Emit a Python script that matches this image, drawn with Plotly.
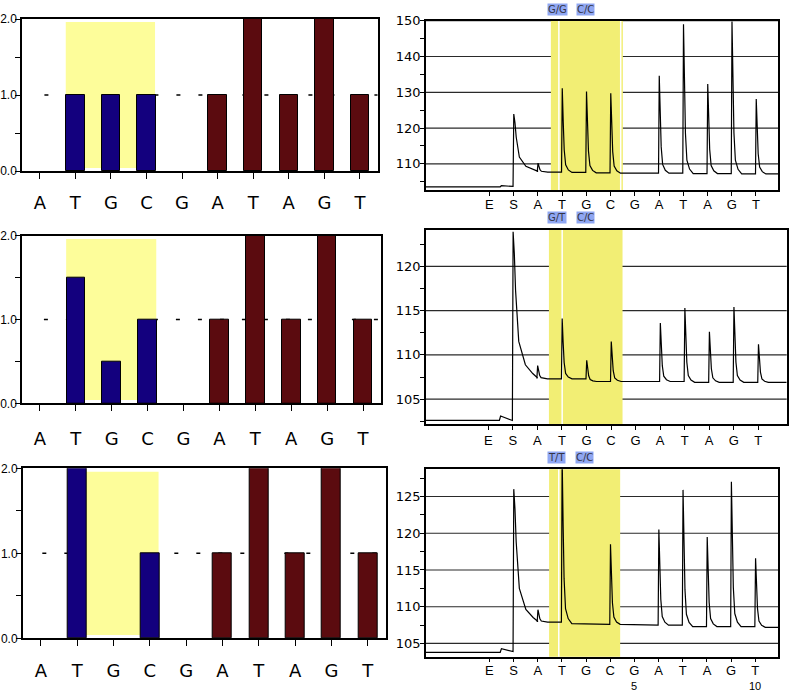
import plotly.graph_objects as go

W, H = 790, 692

# ---------------- data ----------------
bases = ["A", "T", "G", "C", "G", "A", "T", "A", "G", "T"]
hist1 = [0, 1, 1, 1, 0, 1, 2, 1, 2, 1]
hist2 = [0, 1.5, 0.5, 1, 0, 1, 2, 1, 2, 1]
hist3 = [0, 2, 0, 1, 0, 1, 2, 1, 2, 1]
snp_positions = [1, 2, 3]          # bars inside the variable region (blue)

disp = ["E", "S", "A", "T", "G", "C", "G", "A", "T", "A", "G", "T"]
disp_numbers3 = {6: "5", 11: "10"}

# peak heights (None = no peak)
peaks1 = [None, 123.9, 110.2, 131.1, 130.2, 129.7, None, 134.6, 149.0, 132.3, 149.8, 128.1]
peaks2 = [None, 123.9, 108.8, 114.1, 109.4, 111.5, None, 113.6, 115.3, 112.6, 115.4, 111.2]
peaks3 = [None, 126.0, 109.6, 130.5, None, 118.5, None, 120.5, 125.9, 119.5, 127.0, 116.6]
# baseline level reached after each dispensation
after1 = [103.7, 107.9, 107.7, 107.6, 107.5, 107.4, 107.4, 107.4, 107.3, 107.3, 107.2, 107.2]
after2 = [102.6, 107.4, 107.3, 107.3, 107.0, 107.0, 107.0, 107.0, 106.9, 106.9, 106.9, 106.9]
after3 = [103.9, 108.0, 107.9, 107.7, 107.6, 107.6, 107.5, 107.5, 107.3, 107.3, 107.3, 107.2]
pre_base1 = [103.6, 103.9]
pre_base2 = [102.6, 103.1]
pre_base3 = [103.8, 104.3]

tags = [("G/G", "C/C"), ("G/T", "C/C"), ("T/T", "C/C")]

# peak profiles (time offset, fraction of peak amplitude remaining)
sharp_dt = [0.04, 0.08, 0.14, 0.25, 0.4]
sharp_f = [0.6, 0.27, 0.09, 0.03, 0.0]
start_dt = [0.05, 0.1, 0.23, 0.5, 0.8, 1.0]
start_f = [0.85, 0.6, 0.25, 0.09, 0.03, 0.0]

NAVY = "#13007E"
MAROON = "#5B0B0F"
LYELLOW = "#FDFD9A"
RYELLOW = "#F2EE74"
TAGBG = "#8FA7F3"
GRID = "#2a2a2a"

DJ = "DejaVu Sans"
SANS = "Liberation Sans, Arial, sans-serif"


def cfont(size, color="black", family=DJ):
    d = dict(family=family, size=size, color=color)
    try:
        go.layout.xaxis.Tickfont(stretch="condensed")
        d["stretch"] = "condensed"
    except Exception:
        pass
    return d


fig = go.Figure()


def dom_x(a, b):
    return [a / W, b / W]


def dom_y(top, bottom):
    return [1 - bottom / H, 1 - top / H]


# ---------------- left histograms ----------------
left_specs = [
    (hist1, (22, 377.7), (19, 171), 0.13, "1", 9),
    (hist2, (22, 381), (235.7, 403.3), 0.11, "3", 12),
    (hist3, (22.7, 386), (468.3, 638.3), 0.04, "5", 9),
]
for vals, (xa, xb), (yt, yb), dash_start, ax, xstand in left_specs:
    xs = list(range(len(bases)))
    ys = [v if v > 0 else None for v in vals]
    cols = [NAVY if i in snp_positions else MAROON for i in xs]
    fig.add_trace(go.Bar(x=xs, y=ys, marker=dict(color=cols, line=dict(color="black", width=1)),
                         width=0.52, xaxis="x" + ax, yaxis="y" + ax, showlegend=False,
                         hoverinfo="skip"))
    xk = "xaxis" if ax == "1" else "xaxis" + ax
    yk = "yaxis" if ax == "1" else "yaxis" + ax
    fig.update_layout({
        xk: dict(domain=dom_x(xa, xb), range=[-0.5, 9.5], anchor="y" + ax,
                 tickmode="array", tickvals=xs, ticktext=bases,
                 ticks="outside", ticklen=6, tickwidth=1.3, tickcolor="black",
                 showline=True, mirror=True, linecolor="black", linewidth=1.5,
                 showgrid=False, zeroline=False, fixedrange=True, automargin=False,
                 tickfont=cfont(18), ticklabelstandoff=xstand),
        yk: dict(domain=dom_y(yt, yb), range=[0, 2], anchor="x" + ax,
                 tickmode="array", tickvals=[0, 0.5, 1, 1.5, 2],
                 ticktext=["0.0", "", "1.0", "", "2.0"],
                 ticks="outside", ticklen=5, tickwidth=1.3, tickcolor="black",
                 showline=True, mirror=True, linecolor="black", linewidth=1.5,
                 showgrid=False, zeroline=False, fixedrange=True, automargin=False,
                 tickfont=cfont(12, family=SANS), ticklabelstandoff=-4),
    })
    # dashed expected level
    fig.add_shape(type="line", xref="x" + ax, yref="y" + ax, x0=dash_start, x1=9.5, y0=1, y1=1,
                  line=dict(color="black", width=1.5, dash="4px,18px"), layer="below")
    # highlighted variable region
    fig.add_shape(type="rect", xref="x" + ax, yref="y" + ax, x0=0.73, x1=3.24, y0=0.04, y1=1.96,
                  fillcolor=LYELLOW, line=dict(width=0), layer="below")


# ---------------- right pyrograms ----------------
def build_trace(peaks, after, pre, x_left, x_right):
    xs = [x_left, 0.45, 0.5]
    ys = [pre[0], pre[0], pre[1]]
    cur = pre[1]
    for i, h in enumerate(peaks):
        if h is None:
            cur = after[i]
            continue
        b = after[i]
        xs += [i - 0.02, i + 0.01]
        ys += [cur, h]
        dts, fs = (start_dt, start_f) if i == 1 else (sharp_dt, sharp_f)
        for dt, f in zip(dts, fs):
            xs.append(i + 0.01 + dt)
            ys.append(b + f * (h - b))
        cur = b
    xs.append(x_right)
    ys.append(cur)
    return xs, ys


right_specs = [
    (peaks1, after1, pre_base1, (426, 778.3), (20.7, 190), (-2.61, 11.92), (102.7, 150),
     [110, 120, 130, 140, 150], [105, 115, 125, 135, 145],
     (2.54, 5.51), [2.87, 5.42], 9.5, (2.83, 3.97), "2", tags[0], -2),
    (peaks2, after2, pre_base2, (426, 786.7), (230, 424), (-2.54, 12.16), (102.2, 124.1),
     [105, 110, 115, 120], [102.5, 107.5, 112.5, 117.5, 122.5],
     (2.47, 5.47), [3.01], 217, (2.80, 3.94), "4", tags[1], 0),
    (peaks3, after3, pre_base3, (426, 778.3), (469.3, 656.7), (-2.62, 11.95), (103.2, 128.7),
     [105, 110, 115, 120, 125], [107.5, 112.5, 117.5, 122.5, 127.5],
     (2.47, 5.41), [2.87], 457, (2.78, 3.92), "6", tags[2], -3),
]

for (pk, af, pre, (xa, xb), (yt, yb), xr, yr, major, minor, yel, whites, tag_y,
     tag_x, ax, tg, xstand) in right_specs:
    tx, ty = build_trace(pk, af, pre, xr[0], xr[1])
    fig.add_trace(go.Scatter(x=tx, y=ty, mode="lines", line=dict(color="black", width=1.2),
                             xaxis="x" + ax, yaxis="y" + ax, showlegend=False, hoverinfo="skip"))
    fig.update_layout({
        "xaxis" + ax: dict(domain=dom_x(xa, xb), range=list(xr), anchor="y" + ax,
                           tickmode="array", tickvals=list(range(len(disp))), ticktext=disp,
                           ticks="outside", ticklen=4, tickwidth=1.2, tickcolor="black",
                           showline=True, mirror=True, linecolor="black", linewidth=1.5,
                           showgrid=False, zeroline=False, fixedrange=True, automargin=False,
                           ticklabelstandoff=xstand,
                           tickfont=dict(family=SANS, size=13, color="black")),
        "yaxis" + ax: dict(domain=dom_y(yt, yb), range=list(yr), anchor="x" + ax,
                           tickmode="array", tickvals=major, ticktext=[str(v) for v in major],
                           ticks="outside", ticklen=4, tickwidth=1.2, tickcolor="black",
                           minor=dict(tickmode="array", tickvals=minor, ticks="outside",
                                      ticklen=4, tickcolor="black", showgrid=False),
                           showline=True, mirror=True, linecolor="black", linewidth=1.5,
                           showgrid=False, zeroline=False, fixedrange=True, automargin=False,
                           ticklabelstandoff=-3, tickfont=cfont(13)),
    })
    # gridlines (drawn as shapes so that the highlight can cover them)
    for v in major:
        fig.add_shape(type="line", xref="x" + ax + " domain", yref="y" + ax, x0=0, x1=1,
                      y0=v, y1=v, line=dict(color=GRID, width=1.2), layer="below")
    fig.add_shape(type="rect", xref="x" + ax, yref="y" + ax + " domain", x0=yel[0], x1=yel[1],
                  y0=0, y1=1, fillcolor=RYELLOW, line=dict(width=0), layer="below")
    for wx in whites:
        fig.add_shape(type="line", xref="x" + ax, yref="y" + ax + " domain", x0=wx, x1=wx,
                      y0=0, y1=1, line=dict(color="white", width=1.5), layer="below")
    for t, x in zip(tg, tag_x):
        fig.add_annotation(text=t, xref="x" + ax, yref="paper", x=x, y=1 - tag_y / H,
                           xanchor="center", yanchor="middle",
                           showarrow=False, bgcolor=TAGBG, borderpad=0,
                           font=cfont(10, "#333344"))

# dispensation numbers under the last pyrogram
for i, num in disp_numbers3.items():
    fig.add_annotation(text=num, xref="x6", yref="paper", x=i, y=1 - 685.5 / H,
                       xanchor="center", yanchor="middle", showarrow=False,
                       font=dict(family=SANS, size=11, color="black"))

fig.update_layout(width=W, height=H, margin=dict(l=0, r=0, t=0, b=0, autoexpand=False),
                  paper_bgcolor="white", plot_bgcolor="white", showlegend=False,
                  bargap=0)

page_fix = ("document.documentElement.style.margin='0';"
            "document.body.style.margin='0';document.body.style.padding='0';"
            "var gd=document.getElementById('{plot_id}');"
            "gd.style.position='fixed';gd.style.left='0px';gd.style.top='0px';")

fig.write_html("out.html", config={"displayModeBar": False}, post_script=page_fix)
